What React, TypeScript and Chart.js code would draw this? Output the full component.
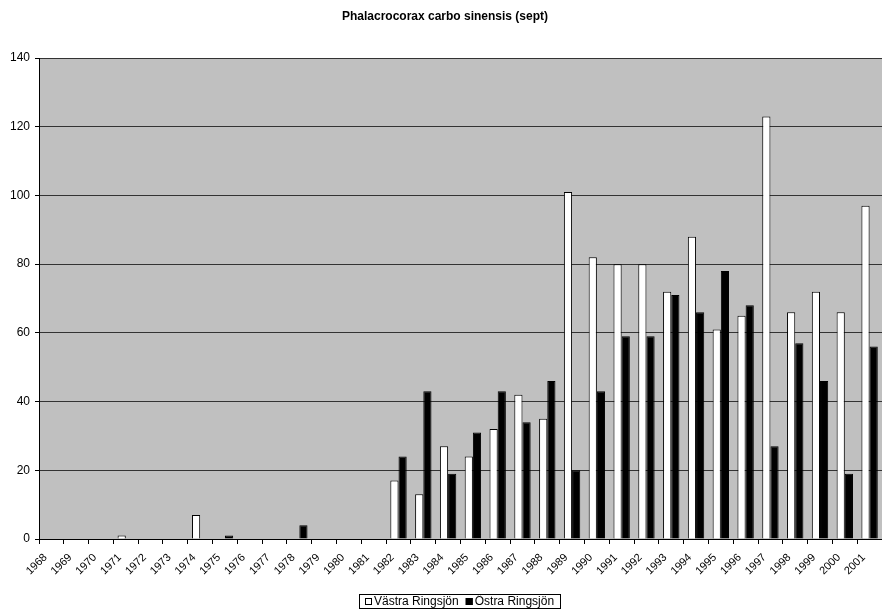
import React, { useEffect, useRef } from 'react';
import { Chart, registerables } from 'chart.js';

Chart.register(...registerables);

const TITLE = 'Phalacrocorax carbo sinensis (sept)';

const YEARS = [
  '1968', '1969', '1970', '1971', '1972', '1973', '1974', '1975', '1976', '1977',
  '1978', '1979', '1980', '1981', '1982', '1983', '1984', '1985', '1986', '1987',
  '1988', '1989', '1990', '1991', '1992', '1993', '1994', '1995', '1996', '1997',
  '1998', '1999', '2000', '2001',
];

const VASTRA_LABEL = 'Västra Ringsjön';
const VASTRA = [
  0, 0, 0, 1, 0, 0, 7, 0, 0, 0,
  0, 0, 0, 0, 17, 13, 27, 24, 32, 42,
  35, 101, 82, 80, 80, 72, 88, 61, 65, 123,
  66, 72, 66, 97,
];

const OSTRA_LABEL = 'Östra Ringsjön';
const OSTRA = [
  0, 0, 0, 0, 0, 0, 0, 1, 0, 0,
  4, 0, 0, 0, 24, 43, 19, 31, 43, 34,
  46, 20, 43, 59, 59, 71, 66, 78, 68, 27,
  57, 46, 19, 56,
];

const Y_MIN = 0;
const Y_MAX = 140;
const Y_STEP = 20;

const FONT = "'Liberation Sans', Arial, Helvetica, sans-serif";

const plotBackground = {
  id: 'plotBackground',
  beforeDraw(chart: any) {
    const { ctx, chartArea: a } = chart;
    ctx.save();
    ctx.fillStyle = '#c0c0c0';
    ctx.fillRect(a.left, a.top, a.right - a.left, a.bottom - a.top);
    ctx.restore();
  },
};

const boxedLegend = {
  id: 'boxedLegend',
  afterDraw(chart: any) {
    const { ctx } = chart;
    const ds = chart.data.datasets;
    ctx.save();
    ctx.font = `12px ${FONT}`;
    ctx.textBaseline = 'middle';
    ctx.textAlign = 'left';
    const sq = 7;
    const gapSqText = 2;
    const gapItems = 7;
    const pad = 6;
    const widths = ds.map((d: any) => ctx.measureText(d.label).width);
    let total = pad * 2;
    widths.forEach((w: number, i: number) => {
      total += sq + gapSqText + w + (i > 0 ? gapItems : 0);
    });
    const centerX = 460;
    const top = 594;
    const height = 14;
    const left = Math.round(centerX - total / 2);
    ctx.strokeStyle = '#000';
    ctx.lineWidth = 1;
    ctx.strokeRect(left + 0.5, top + 0.5, Math.round(total), height);
    const cy = top + height / 2 + 0.5;
    let x = left + pad;
    ds.forEach((d: any, i: number) => {
      if (i > 0) x += gapItems;
      ctx.fillStyle = d.backgroundColor;
      ctx.fillRect(x, Math.round(cy - sq / 2), sq, sq);
      ctx.strokeStyle = '#000';
      ctx.strokeRect(x + 0.5, Math.round(cy - sq / 2) + 0.5, sq - 1, sq - 1);
      x += sq + gapSqText;
      ctx.fillStyle = '#000';
      ctx.fillText(d.label, x, cy);
      x += widths[i];
    });
    ctx.restore();
  },
};

export default function App() {
  const canvasRef = useRef<HTMLCanvasElement | null>(null);

  useEffect(() => {
    const canvas = canvasRef.current;
    if (!canvas) return;
    const chart = new Chart(canvas, {
      type: 'bar',
      data: {
        labels: YEARS,
        datasets: [
          {
            label: VASTRA_LABEL,
            data: VASTRA,
            backgroundColor: '#ffffff',
            borderColor: '#000000',
            borderWidth: 1,
            categoryPercentage: 0.66,
            barPercentage: 1,
          },
          {
            label: OSTRA_LABEL,
            data: OSTRA,
            backgroundColor: '#000000',
            borderColor: '#000000',
            borderWidth: 1,
            categoryPercentage: 0.66,
            barPercentage: 1,
          },
        ],
      },
      options: {
        responsive: false,
        animation: false,
        devicePixelRatio: 1,
        layout: { padding: { left: 8, right: 0, top: 0, bottom: 0 } },
        plugins: {
          legend: { display: false },
          tooltip: { enabled: false },
          title: {
            display: true,
            text: TITLE,
            color: '#000',
            font: { family: FONT, size: 12, weight: 'bold' },
            padding: { top: 9, bottom: 34.6 },
          },
        },
        scales: {
          x: {
            offset: true,
            grid: {
              offset: true,
              drawOnChartArea: false,
              drawTicks: true,
              tickLength: 5,
              color: '#000',
            },
            border: { display: true, color: '#000', width: 1 },
            ticks: {
              autoSkip: false,
              minRotation: 45,
              maxRotation: 45,
              padding: 7,
              labelOffset: -6,
              color: '#000',
              font: { family: FONT, size: 11 },
            },
            afterFit: (scale: any) => {
              scale.height = 70;
              scale.paddingRight = 0;
              scale.paddingLeft = 0;
            },
          },
          y: {
            min: Y_MIN,
            max: Y_MAX,
            grid: {
              color: '#333333',
              lineWidth: 1,
              drawTicks: true,
              tickLength: 4,
              tickColor: '#000',
            },
            border: { display: true, color: '#000', width: 1 },
            ticks: {
              stepSize: Y_STEP,
              padding: 5,
              color: '#000',
              font: { family: FONT, size: 12 },
            },
            afterFit: (scale: any) => {
              scale.width = 31;
            },
          },
        },
      },
      plugins: [plotBackground, boxedLegend],
    });
    return () => chart.destroy();
  }, []);

  return (
    <div style={{ position: 'fixed', left: 0, top: 0, width: 882, height: 609, background: '#fff' }}>
      <canvas ref={canvasRef} width={882} height={609} style={{ display: 'block', width: 882, height: 609 }} />
    </div>
  );
}
